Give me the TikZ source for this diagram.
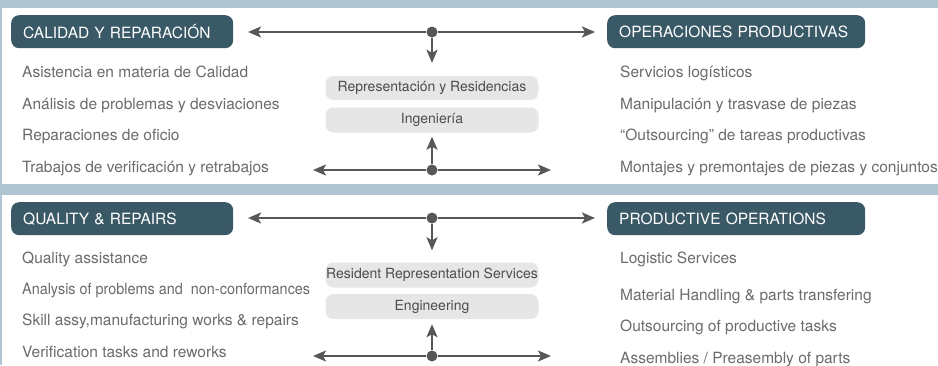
\documentclass[tikz,border=0pt]{standalone}
\usepackage{fontspec}
\setmainfont{TeX Gyre Heros}
\newfontfamily\narrowfont[FakeStretch=0.93]{TeX Gyre Heros}
\usetikzlibrary{arrows.meta}

\definecolor{bandblue}{HTML}{AFC3D0}
\definecolor{headteal}{HTML}{3A5966}
\definecolor{itemgray}{HTML}{6B6B6B}
\definecolor{linegray}{HTML}{555759}
\definecolor{boxgray}{HTML}{E6E6E7}

\tikzset{
	head/.style={fill=headteal, text=white, rounded corners=8pt, anchor=north west,
		font=\fontsize{15.5}{16}\selectfont, inner xsep=12pt, inner ysep=0pt,
		minimum height=33pt, align=left},
	item/.style={anchor=base west, inner sep=0pt, text=itemgray, font=\fontsize{15.5}{16}\selectfont},
	midbox/.style={fill=boxgray, rounded corners=8pt, text=black!70, minimum width=213pt,
		font=\fontsize{14}{15}\selectfont, inner sep=0pt},
	hub/.style={circle, fill=linegray, minimum size=11pt, inner sep=0pt},
	link/.style={draw=linegray, line width=2.2pt, -{Stealth[length=13pt,width=11pt,inset=3pt]}}
}

\begin{document}
\begin{tikzpicture}[x=1pt, y=-1pt]
				
				\useasboundingbox (0,0) rectangle (938,365);
				\fill[bandblue] (0,0) rectangle (938,365);
				\fill[white] (2,8) rectangle (938,184);
				\fill[white] (2,195) rectangle (938,365);
				
				% upper panel (spanish)
				\node[head, text width=198pt] (calidad) at (11,15) {CALIDAD Y REPARACIÓN};
				\node[head, text width=234pt] (operaciones) at (607,15) {OPERACIONES PRODUCTIVAS};
				
				\node[item] (asistencia) at (22,77.5) {Asistencia en materia de Calidad};
				\node[item] (analisis) at (22,109) {Análisis de problemas y desviaciones};
				\node[item] (reparaciones) at (22,140.5) {Reparaciones de oficio};
				\node[item] (trabajos) at (22,172) {Trabajos de verificación y retrabajos};
				
				\node[item] (servicios) at (620,77.5) {Servicios logísticos};
				\node[item] (manipulacion) at (620,109) {Manipulación y trasvase de piezas};
				\node[item] (outsourcing) at (620,140.5) {“Outsourcing” de tareas productivas};
				\node[item] (montajes) at (620,172) {Montajes y premontajes de piezas y conjuntos};
				
				\node[midbox, minimum height=24pt] (representacion) at (432,88) {Representación y Residencias};
				\node[midbox, minimum height=25pt] (ingenieria) at (432,120) {Ingeniería};
				
				\node[hub] (hubA) at (432,32) {};
				\node[hub] (hubB) at (432,170) {};
				\coordinate (tipAl) at (248,32);
				\coordinate (tipAr) at (595,32);
				\coordinate (tipBl) at (313,170);
				\coordinate (tipBr) at (551,170);
				\draw[link] (hubA) -- (tipAl);
				\draw[link] (hubA) -- (tipAr);
				\draw[link, shorten >=13pt] (hubA) -- (representacion.north);
				\draw[link] (hubB) -- (tipBl);
				\draw[link] (hubB) -- (tipBr);
				\draw[link, shorten >=4pt] (hubB) -- (ingenieria.south);
				
				% lower panel (english)
				\node[head, text width=198pt] (quality) at (11,202) {QUALITY \& REPAIRS};
				\node[head, text width=234pt] (productive) at (607,202) {PRODUCTIVE OPERATIONS};
				
				\node[item] (qassist) at (22,263) {Quality assistance};
				\node[item, font=\narrowfont\fontsize{15.5}{16}\selectfont] (qanalysis) at (22,294) {Analysis of problems and\ \ non-conformances};
				\node[item] (qskill) at (22,325) {Skill assy,manufacturing works \& repairs};
				\node[item] (qverif) at (22,357) {Verification tasks and reworks};
				
				\node[item] (plogistic) at (620,263) {Logistic Services};
				\node[item] (pmaterial) at (620,300) {Material Handling \& parts transfering};
				\node[item] (poutsourcing) at (620,331) {Outsourcing of productive tasks};
				\node[item] (passembly) at (620,363) {Assemblies / Preasembly of parts};
				
				\node[midbox, minimum height=25pt] (resident) at (432,275) {Resident Representation Services};
				\node[midbox, minimum height=25pt] (engineering) at (432,306.5) {Engineering};
				
				\node[hub] (hubC) at (432,218) {};
				\node[hub] (hubD) at (432,356) {};
				\coordinate (tipCl) at (248,218);
				\coordinate (tipCr) at (595,218);
				\coordinate (tipDl) at (313,356);
				\coordinate (tipDr) at (551,356);
				\draw[link] (hubC) -- (tipCl);
				\draw[link] (hubC) -- (tipCr);
				\draw[link, shorten >=12pt] (hubC) -- (resident.north);
				\draw[link] (hubD) -- (tipDl);
				\draw[link] (hubD) -- (tipDr);
				\draw[link, shorten >=5pt] (hubD) -- (engineering.south);
				
			\end{tikzpicture}
\end{document}
